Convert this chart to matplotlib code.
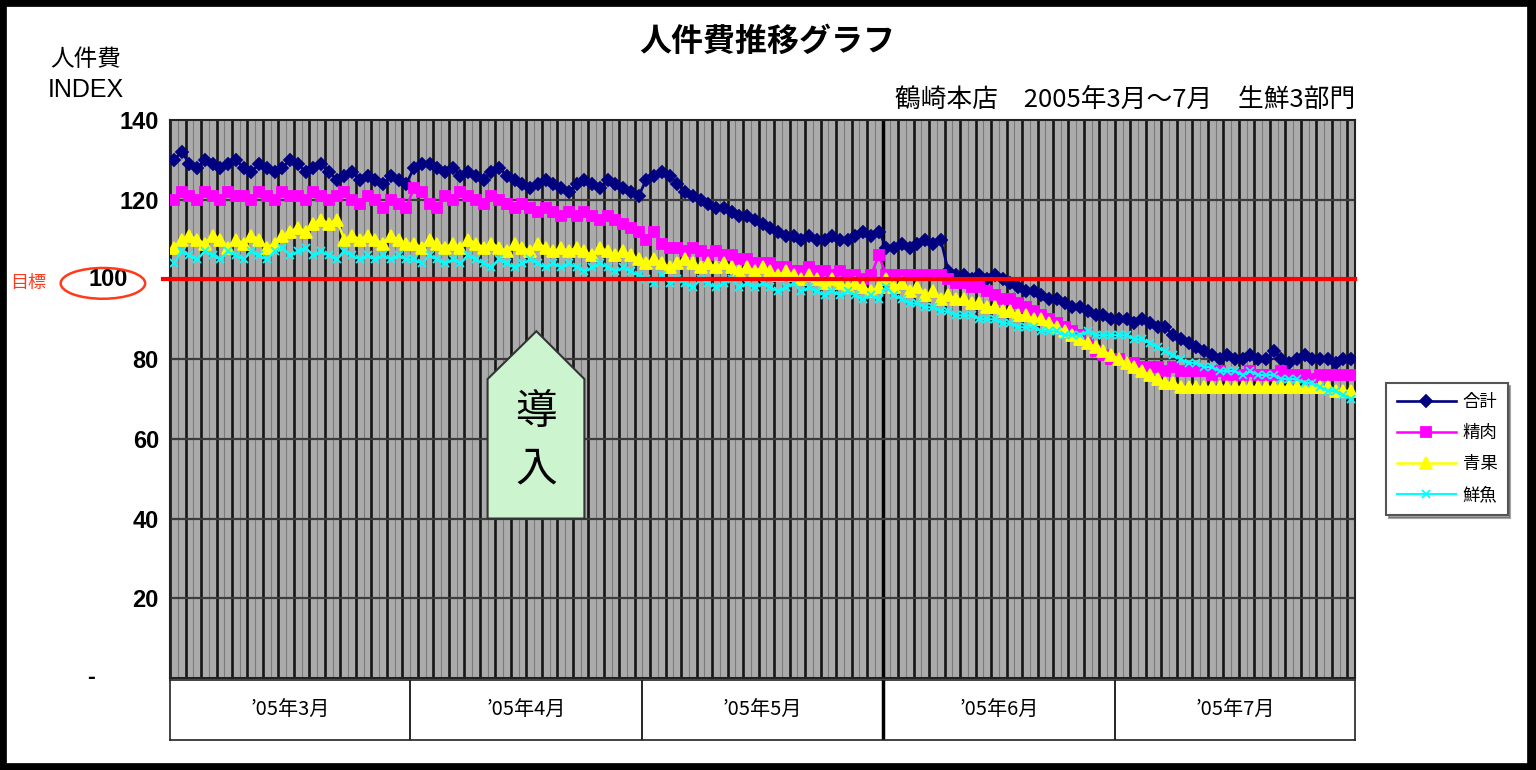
import numpy as np
import matplotlib
matplotlib.use("Agg")
import matplotlib.pyplot as plt
from matplotlib.patches import Ellipse, Polygon, Rectangle

plt.rcParams['font.family'] = ['Noto Sans CJK JP', 'DejaVu Sans']

# daily index values, Mar..Jul 2005
total_mar = [130, 132, 129, 128, 130, 129, 128, 129, 130, 128, 127, 129, 128, 127, 128, 130, 129, 127, 128, 129, 127, 125, 126, 127, 125, 126, 125, 124, 126, 125, 124]
total_apr = [128, 129, 129, 128, 127, 128, 126, 127, 126, 125, 127, 128, 126, 125, 124, 123, 124, 125, 124, 123, 122, 124, 125, 124, 123, 125, 124, 123, 122, 121]
total_may = [125, 126, 127, 126, 124, 122, 121, 120, 119, 118, 118, 117, 116, 116, 115, 114, 113, 112, 111, 111, 110, 111, 110, 110, 111, 110, 110, 111, 112, 111, 112]
total_jun = [108, 108, 109, 108, 109, 110, 109, 110, 102, 101, 101, 100, 101, 100, 101, 100, 99, 98, 97, 97, 96, 95, 95, 94, 93, 93, 92, 91, 91, 90]
total_jul = [90, 90, 89, 90, 89, 88, 88, 86, 85, 84, 83, 82, 81, 80, 81, 80, 80, 81, 80, 80, 82, 80, 79, 80, 81, 80, 80, 80, 79, 80, 80]

meat_mar = [120, 122, 121, 120, 122, 121, 120, 122, 121, 121, 120, 122, 121, 120, 122, 121, 121, 120, 122, 121, 120, 121, 122, 120, 119, 121, 120, 118, 120, 119, 118]
meat_apr = [123, 122, 119, 118, 121, 120, 122, 121, 120, 119, 121, 120, 119, 118, 119, 118, 117, 118, 117, 116, 117, 116, 117, 116, 115, 116, 115, 114, 113, 112]
meat_may = [110, 112, 109, 108, 108, 107, 108, 107, 106, 107, 106, 106, 105, 105, 104, 104, 104, 103, 103, 102, 102, 103, 102, 102, 101, 102, 101, 101, 100, 101, 106]
meat_jun = [101, 101, 101, 101, 101, 101, 101, 101, 100, 99, 99, 98, 98, 97, 96, 95, 95, 94, 93, 92, 91, 90, 89, 88, 87, 86, 84, 82, 81, 80]
meat_jul = [80, 79, 79, 78, 78, 78, 77, 78, 77, 77, 77, 77, 76, 77, 76, 76, 76, 77, 76, 76, 76, 77, 76, 76, 76, 75, 76, 76, 76, 76, 76]

veg_mar = [108, 110, 111, 110, 109, 111, 110, 108, 110, 109, 111, 110, 108, 109, 111, 112, 113, 112, 114, 115, 114, 115, 110, 111, 110, 111, 110, 109, 111, 110, 109]
veg_apr = [109, 108, 110, 109, 108, 109, 108, 110, 109, 108, 109, 108, 107, 109, 108, 107, 109, 108, 107, 108, 107, 108, 107, 106, 108, 107, 106, 107, 106, 105]
veg_may = [104, 105, 104, 103, 104, 105, 104, 103, 104, 103, 104, 103, 102, 103, 102, 103, 102, 101, 102, 101, 100, 101, 100, 99, 100, 99, 98, 99, 98, 97, 98]
veg_jun = [100, 98, 99, 97, 98, 96, 97, 95, 96, 95, 95, 94, 94, 93, 93, 92, 92, 91, 91, 90, 90, 89, 88, 87, 86, 85, 84, 83, 82, 81]
veg_jul = [80, 79, 78, 77, 76, 75, 74, 74, 73, 73, 73, 73, 73, 73, 73, 73, 73, 73, 73, 73, 73, 73, 73, 73, 73, 73, 73, 73, 72, 72, 72]

fish_mar = [104, 107, 106, 105, 107, 106, 105, 107, 106, 105, 107, 106, 105, 107, 108, 106, 107, 108, 106, 107, 106, 105, 107, 106, 105, 106, 105, 106, 105, 106, 105]
fish_apr = [105, 104, 106, 105, 104, 105, 104, 106, 105, 104, 103, 105, 104, 103, 104, 105, 104, 103, 104, 103, 104, 103, 102, 103, 104, 103, 102, 103, 102, 101]
fish_may = [100, 99, 101, 99, 100, 99, 98, 100, 99, 98, 99, 100, 98, 99, 98, 99, 98, 97, 98, 99, 97, 98, 97, 96, 97, 96, 97, 96, 95, 96, 95]
fish_jun = [98, 96, 95, 94, 94, 93, 93, 92, 92, 91, 91, 91, 90, 90, 90, 89, 89, 88, 88, 88, 87, 87, 87, 86, 86, 86, 87, 86, 86, 86]
fish_jul = [86, 86, 85, 85, 84, 83, 82, 81, 80, 79, 79, 78, 78, 77, 77, 77, 76, 77, 76, 76, 76, 75, 75, 75, 74, 74, 73, 72, 72, 71, 70]

months = ["’05年3月", "’05年4月", "’05年5月", "’05年6月", "’05年7月"]
month_days = [31, 30, 31, 30, 31]
series_names = ["合計", "精肉", "青果", "鮮魚"]
target = 100
yticks = [0, 20, 40, 60, 80, 100, 120, 140]

total = total_mar + total_apr + total_may + total_jun + total_jul
meat = meat_mar + meat_apr + meat_may + meat_jun + meat_jul
veg = veg_mar + veg_apr + veg_may + veg_jun + veg_jul
fish = fish_mar + fish_apr + fish_may + fish_jun + fish_jul

ndays = sum(month_days)
bounds = np.concatenate([[0], np.cumsum(month_days)])

fig = plt.figure(figsize=(15.36, 7.7), dpi=100)
ax = fig.add_axes([0.1107, 0.1195, 0.7715, 0.7247])
ax.set_facecolor('#ababab')

# day grid: thin lines every day, heavy every second day
days = np.arange(ndays + 1)
ax.vlines(days, 0, 140, color='#7a7a7a', lw=0.8, zorder=0)
ax.vlines(days[::2], 0, 140, color='#151515', lw=1.9, zorder=0)
ax.vlines(bounds[3], 0, 140, color='black', lw=2.5, zorder=0)
for yv in yticks[1:-1]:
    ax.axhline(yv, color='#3c3c3c', lw=1.6, zorder=0.5)

styles = [
    ('#000080', 'D', 6.5, 1.9),
    ('#ff00ff', 's', 7, 1.8),
    ('#ffff00', '^', 8, 1.8),
    ('#00ffff', 'x', 5.5, 1.5),
]
for vals, name, (c, m, ms, lw) in zip([total, meat, veg, fish], series_names, styles):
    x = np.arange(len(vals)) + 0.5
    ax.plot(x, vals, color=c, marker=m, ms=ms, lw=lw, mew=1.3, label=name, zorder=3)

ax.axhline(target, xmin=-0.006, color='#ff0000', lw=3, zorder=5, clip_on=False)

ax.set_xlim(0, ndays)
ax.set_ylim(0, 140)
ax.set_xticks([])
ax.set_yticks(yticks)
ax.set_yticklabels(['' if v in (0, target) else str(v) for v in yticks],
                   family='Liberation Sans', fontweight='bold', fontsize=17)
ax.tick_params(axis='y', length=0, pad=8)
# zero shown as a dash and the target value inside the ring, Excel style
ytr = ax.get_yaxis_transform()
ax.text(-0.067, 0, '-', transform=ytr, ha='center', va='center',
        family='Liberation Sans', fontweight='bold', fontsize=17)
ax.text(-0.052, target, str(target), transform=ytr, ha='center', va='center',
        family='Liberation Sans', fontweight='bold', fontsize=17)
for s in ax.spines.values():
    s.set_color('#222222')
    s.set_linewidth(1.5)

# introduction marker
poly = Polygon([(41, 40), (41, 75), (47.3, 87), (53.5, 75), (53.5, 40)],
               closed=True, facecolor='#ccf5cf', edgecolor='#333333', lw=1.5, zorder=6)
ax.add_patch(poly)
ax.text(47.3, 66.5, "導", ha='center', va='center', fontsize=30, zorder=7)
ax.text(47.3, 52.5, "入", ha='center', va='center', fontsize=30, zorder=7)

leg = ax.legend(loc='center', bbox_to_anchor=(0.942, 0.417), bbox_transform=fig.transFigure,
                fontsize=12.5, handlelength=3.4, labelspacing=0.75, frameon=True,
                fancybox=False, shadow=True, borderpad=0.6, handletextpad=0.4)
leg.get_frame().set_edgecolor('#555555')
leg.get_frame().set_linewidth(1.5)

# month table under the plot
ax2 = fig.add_axes([0.1107, 0.039, 0.7715, 0.078])
ax2.set_xlim(0, ndays)
ax2.set_ylim(0, 1)
ax2.set_xticks([])
ax2.set_yticks([])
for b in bounds[1:-1]:
    ax2.axvline(b, color='black', lw=2.5 if b == bounds[3] else 1.2)
for i, name in enumerate(months):
    ax2.text((bounds[i] + bounds[i + 1]) / 2, 0.5, name, ha='center', va='center', fontsize=14.5)
for s in ax2.spines.values():
    s.set_color('#222222')
    s.set_linewidth(1.2)

# texts
fig.text(0.4995, 0.945, "人件費推移グラフ", ha='center', va='center', fontsize=23, fontweight='bold')
fig.text(0.056, 0.923, "人件費", ha='center', va='center', fontsize=17)
fig.text(0.056, 0.883, "INDEX", ha='center', va='center', fontsize=18, family='Liberation Sans')
fig.text(0.5827, 0.870, "鶴崎本店　2005年3月～7月　生鮮3部門", ha='left', va='center', fontsize=18.5)
fig.text(0.0185, 0.632, "目標", ha='center', va='center', fontsize=13, color='#ff3a1a')
fig.patches.append(Ellipse((0.067, 0.632), 0.055, 0.040, transform=fig.transFigure,
                           facecolor='none', edgecolor='#ff3a1a', lw=1.8))
fig.patches.append(Rectangle((0.0015, 0.003), 0.996, 0.994, transform=fig.transFigure,
                             facecolor='none', edgecolor='black', lw=7))

fig.savefig("out.png", dpi=100)
